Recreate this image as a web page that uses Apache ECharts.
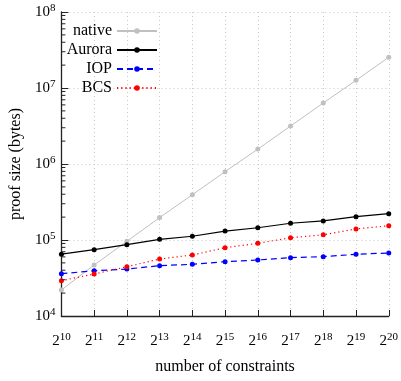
<!DOCTYPE html>
<html><head><meta charset="utf-8">
<script src="https://cdn.jsdelivr.net/npm/echarts@6/dist/echarts.min.js"></script>
<style>html,body{margin:0;padding:0;background:#fff}#c{width:401px;height:381px}</style>
</head><body><div id="c"></div>
<script>
const exponents = [10, 11, 12, 13, 14, 15, 16, 17, 18, 19, 20];
const nativeBytes = [22000, 46900, 96000, 197000, 394000, 792000, 1570000, 3160000, 6350000, 12600000, 25400000];
const auroraBytes = [65000, 74600, 86700, 102000, 112000, 131000, 145000, 166000, 178000, 203000, 222000];
const iopBytes = [36000, 39400, 41500, 45900, 47900, 51900, 54600, 58600, 60400, 64800, 67500];
const bcsBytes = [29200, 35700, 44500, 56200, 63500, 79200, 90400, 107000, 117000, 140000, 154000];
const seriesNames = ['native', 'Aurora', 'IOP', 'BCS'];
const yMin = 1e4, yMax = 1e8;
const yMinorTicks = [];
for (let d = 1e4; d < 1e8; d *= 10) for (let m = 2; m <= 9; m++) yMinorTicks.push(d * m);

const FONT = "'Liberation Serif', 'DejaVu Serif', serif";
const pair = (xs, ys) => xs.map((x, i) => [x, ys[i]]);

const chart = echarts.init(document.getElementById('c'), null, {renderer: 'canvas'});
const gridLine = {show: true, lineStyle: {color: '#c8c8c8', type: [1, 3], width: 1}};
const axisLine = {show: true, onZero: false, lineStyle: {color: '#222', width: 1.3}};

function mk(name, data, color, type, width) {
  return {
    name, type: 'line', data, symbol: 'circle', symbolSize: 5, showSymbol: true,
    itemStyle: {color}, lineStyle: {color, width, type}, animation: false, z: 3
  };
}

chart.setOption({
  animation: false,
  backgroundColor: '#fff',
  textStyle: {fontFamily: FONT},
  grid: {left: 55, right: 12, top: 12, bottom: 65, containLabel: false},
  legend: {
    data: seriesNames, orient: 'vertical', align: 'right', right: 243, top: 23,
    padding: 0, itemWidth: 40, itemHeight: 7, itemGap: 3,
    textStyle: {fontFamily: FONT, fontSize: 16, color: '#000'}
  },
  xAxis: {
    type: 'value', min: 10, max: 20, interval: 1,
    name: 'number of constraints', nameLocation: 'middle', nameGap: 43,
    nameTextStyle: {fontFamily: FONT, fontSize: 16, color: '#000'},
    axisLine, axisTick: {show: true, inside: true, length: 6, lineStyle: {color: '#222'}},
    splitLine: gridLine,
    axisLabel: {
      margin: 16, color: '#000', fontFamily: FONT,
      formatter: v => '{b|2}{s|' + v + '}',
      rich: {b: {fontSize: 15, lineHeight: 18, fontFamily: FONT, color: '#000'},
             s: {fontSize: 11, lineHeight: 11, verticalAlign: 'top', fontFamily: FONT, color: '#000'}}
    }
  },
  yAxis: {
    type: 'log', logBase: 10, min: yMin, max: yMax,
    name: 'proof size (bytes)', nameLocation: 'middle', nameGap: 35,
    nameTextStyle: {fontFamily: FONT, fontSize: 16, color: '#000'},
    axisLine, axisTick: {show: true, inside: true, length: 7, lineStyle: {color: '#222'}},
    splitLine: gridLine,
    axisLabel: {
      margin: 6, color: '#000', fontFamily: FONT,
      formatter: v => '{b|10}{s|' + Math.round(Math.log10(v)) + '}',
      rich: {b: {fontSize: 15, lineHeight: 18, fontFamily: FONT, color: '#000'},
             s: {fontSize: 11, lineHeight: 11, verticalAlign: 'top', fontFamily: FONT, color: '#000'}}
    }
  },
  series: [
    mk('native', pair(exponents, nativeBytes), '#c0c0c0', 'solid', 1),
    mk('Aurora', pair(exponents, auroraBytes), '#000000', 'solid', 1.2),
    mk('IOP', pair(exponents, iopBytes), '#0000ff', [6, 4], 1.2),
    mk('BCS', pair(exponents, bcsBytes), '#ff0000', [1.2, 3], 1.2),
    {
      type: 'custom', name: 'minor', silent: true, z: 5,
      data: yMinorTicks.map(v => [exponents[0], v]),
      renderItem: (params, api) => {
        const p = api.coord([api.value(0), api.value(1)]);
        return {type: 'line', shape: {x1: p[0], y1: p[1], x2: p[0] + 4, y2: p[1]},
                style: {stroke: '#222', lineWidth: 1}};
      }
    }
  ]
});
</script></body></html>
